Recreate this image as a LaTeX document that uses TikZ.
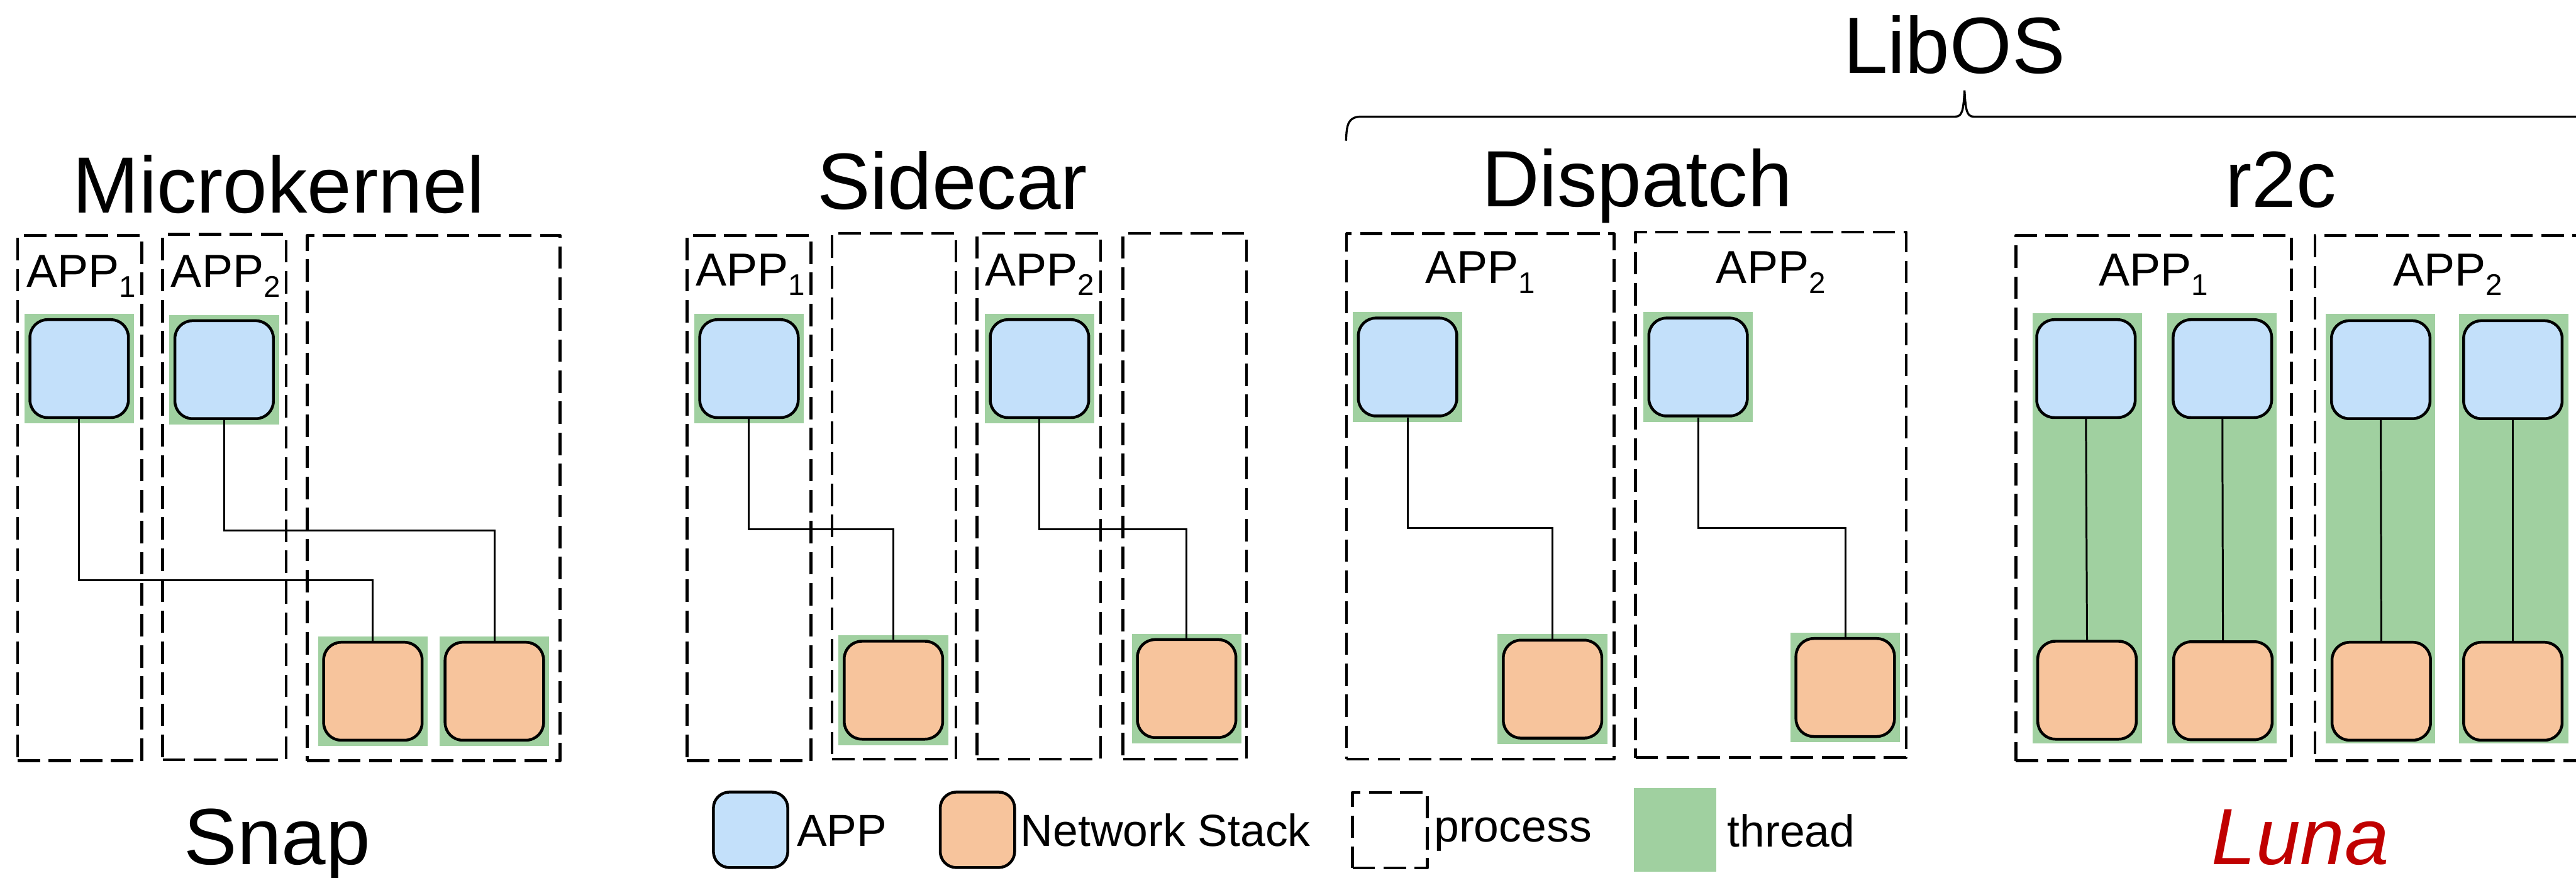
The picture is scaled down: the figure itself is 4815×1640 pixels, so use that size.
\documentclass[tikz,border=0pt]{standalone}
\usepackage{fontspec}
\setmainfont{Liberation Sans}
\usetikzlibrary{fit}

\definecolor{appblue}{HTML}{C3E0FA}
\definecolor{nsorange}{HTML}{F7C49C}
\definecolor{thrgreen}{HTML}{A0D0A0}
\definecolor{lunared}{HTML}{C00000}

% APP label with a lowered index
\newcommand\appsub[1]{APP\raisebox{-0.18cm}{\fontsize{15.9}{18}\selectfont #1}}

\tikzset{
  proc/.style={draw, line width=1.5pt, line join=round, dash pattern=on 11.95pt off 4.55pt, inner sep=0pt},
  app/.style={draw, line width=1.5pt, fill=appblue, rounded corners=0.33cm,
              minimum width=1.84cm, minimum height=1.83cm, inner sep=0pt},
  ns/.style={app, fill=nsorange},
  cellbg/.style={fill=thrgreen, draw=none, minimum width=2.05cm, minimum height=2.05cm, inner sep=0pt},
  thr/.style={fill=thrgreen, draw=none, inner sep=0pt},
  link/.style={line width=1pt},
  ttl/.style={anchor=base, inner sep=0pt, font=\fontsize{42.4}{48}\selectfont},
  applbl/.style={inner sep=0pt, font=\fontsize{24.6}{28}\selectfont},
  leglbl/.style={anchor=base west, inner sep=0pt, font=\fontsize{23.9}{27}\selectfont},
  legbox/.style={minimum width=1.39cm, minimum height=1.41cm, rounded corners=0.3cm},
}

\begin{document}
\begin{tikzpicture}[x=0.01cm, y=-0.01cm]
\useasboundingbox (0,0) rectangle (4815,1640);
\clip (0,0) rectangle (4815,1640);

% ---------------- Microkernel ----------------
\node[proc, fit={(33,440) (265,1422)}] (mkp1) {};
\node[proc, fit={(304,438) (535,1420)}] (mkp2) {};
\node[proc, fit={(574,440) (1047,1422)}] (mkp3) {};
\node[ttl] (mktitle) at (521,398) {Microkernel};
\node[applbl, anchor=base west] (mkl1) at (49,537) {\appsub{1}};
\node[applbl, anchor=base west] (mkl2) at (319,537) {\appsub{2}};
\node[cellbg] (mkg1) at (148,689) {};
\node[app] (mka1) at (148,689) {};
\node[cellbg] (mkg2) at (419,691) {};
\node[app] (mka2) at (419,691) {};
\node[cellbg] (mkg3) at (697,1292) {};
\node[ns] (mkn1) at (697,1292) {};
\node[cellbg] (mkg4) at (924,1292) {};
\node[ns] (mkn2) at (924,1292) {};
\coordinate (mkj1) at (0,1084);
\coordinate (mkj2) at (0,991);
\draw[link] (mka1.south) -- (mka1.south |- mkj1) -| (mkn1.north);
\draw[link] (mka2.south) -- (mka2.south |- mkj2) -| (mkn2.north);

% ---------------- Sidecar ----------------
\node[proc, fit={(1284,440) (1516,1422)}] (scp1) {};
\node[proc, fit={(1555,436) (1787,1419)}] (scp2) {};
\node[proc, fit={(1826,436) (2057,1419)}] (scp3) {};
\node[proc, fit={(2099,436) (2330,1419)}] (scp4) {};
\node[ttl] (sctitle) at (1780,391) {Sidecar};
\node[applbl, anchor=base west] (scl1) at (1300,534) {\appsub{1}};
\node[applbl, anchor=base west] (scl2) at (1841,534) {\appsub{2}};
\node[cellbg] (scg1) at (1400,689) {};
\node[app] (sca1) at (1400,689) {};
\node[cellbg] (scg2) at (1670,1290) {};
\node[ns] (scn1) at (1670,1290) {};
\node[cellbg] (scg3) at (1943,689) {};
\node[app] (sca2) at (1943,689) {};
\node[cellbg] (scg4) at (2218,1287) {};
\node[ns] (scn2) at (2218,1287) {};
\coordinate (scj) at (0,989);
\draw[link] (sca1.south) -- (sca1.south |- scj) -| (scn1.north);
\draw[link] (sca2.south) -- (sca2.south |- scj) -| (scn2.north);

% ---------------- Dispatch ----------------
\node[proc, fit={(2517,437) (3017,1419)}] (dpp1) {};
\node[proc, fit={(3057,434) (3563,1416)}] (dpp2) {};
\node[ttl] (dptitle) at (3060,386) {Dispatch};
\node[applbl, anchor=base] (dpl1) at (2767,530) {\appsub{1}};
\node[applbl, anchor=base] (dpl2) at (3310,530) {\appsub{2}};
\node[cellbg] (dpg1) at (2631,686) {};
\node[app] (dpa1) at (2631,686) {};
\node[cellbg] (dpg2) at (2902,1288) {};
\node[ns] (dpn1) at (2902,1288) {};
\node[cellbg] (dpg3) at (3174,686) {};
\node[app] (dpa2) at (3174,686) {};
\node[cellbg] (dpg4) at (3449,1285) {};
\node[ns] (dpn2) at (3449,1285) {};
\coordinate (dpj) at (0,987);
\draw[link] (dpa1.south) -- (dpa1.south |- dpj) -| (dpn1.north);
\draw[link] (dpa2.south) -- (dpa2.south |- dpj) -| (dpn2.north);

% ---------------- r2c ----------------
\node[proc, fit={(3768,440) (4283,1422)}] (rcp1) {};
\node[proc, fit={(4327,440) (4823,1422)}] (rcp2) {};
\node[ttl] (rctitle) at (4263,387) {r2c};
\node[applbl, anchor=base] (rcl1) at (4025,534) {\appsub{1}};
\node[applbl, anchor=base] (rcl2) at (4575,534) {\appsub{2}};
\node[thr, fit={(3799,585) (4004,1389)}] (rct1) {};
\node[thr, fit={(4051,585) (4255,1389)}] (rct2) {};
\node[thr, fit={(4347,587) (4552,1390)}] (rct3) {};
\node[thr, fit={(4596,587) (4801,1390)}] (rct4) {};
\node[app] (rca1) at (3899,689) {};
\node[app] (rca2) at (4154,689) {};
\node[app] (rca3) at (4450,691) {};
\node[app] (rca4) at (4697,691) {};
\node[ns] (rcn1) at (3901,1290) {};
\node[ns] (rcn2) at (4155,1291) {};
\node[ns] (rcn3) at (4451,1292) {};
\node[ns] (rcn4) at (4697,1292) {};
\draw[link] (rca1.south) -- (rcn1.north);
\draw[link] (rca2.south) -- (rcn2.north);
\draw[link] (rca3.south) -- (rcn3.north);
\draw[link] (rca4.south) -- (rcn4.north);

% ---------------- LibOS brace ----------------
\node[ttl] (libos) at (3653,137) {LibOS};
\coordinate (brl) at (2516,263);
\coordinate (brtip) at (3672,169);
\coordinate (brr) at (4900,218);
\draw[line width=1.1pt] (brl) .. controls (2517,232) and (2520,218) .. (2545,218)
  -- (3655,218) .. controls (3668,218) and (3670,205) .. (brtip)
  .. controls (3674,205) and (3676,218) .. (3689,218) -- (brr);

% ---------------- Bottom captions ----------------
\node[ttl] (snap) at (518,1616) {Snap};
\node[ttl, text=lunared, font=\fontsize{42.4}{48}\selectfont\itshape] (luna) at (4300,1616) {Luna};

% ---------------- Legend ----------------
\node[app, legbox] (legapp) at (1403,1551) {};
\node[leglbl] (legapptxt) at (1489,1582) {APP};
\node[ns, legbox] (legns) at (1827,1551) {};
\node[leglbl] (legnstxt) at (1907,1582) {Network Stack};
\node[proc, fit={(2528,1481) (2668,1622)}] (legproc) {};
\node[leglbl] (legproctxt) at (2680,1573) {process};
\node[thr, fit={(3054,1473) (3208,1629)}] (legthr) {};
\node[leglbl] (legthrtxt) at (3228,1583) {thread};
\end{tikzpicture}
\end{document}
